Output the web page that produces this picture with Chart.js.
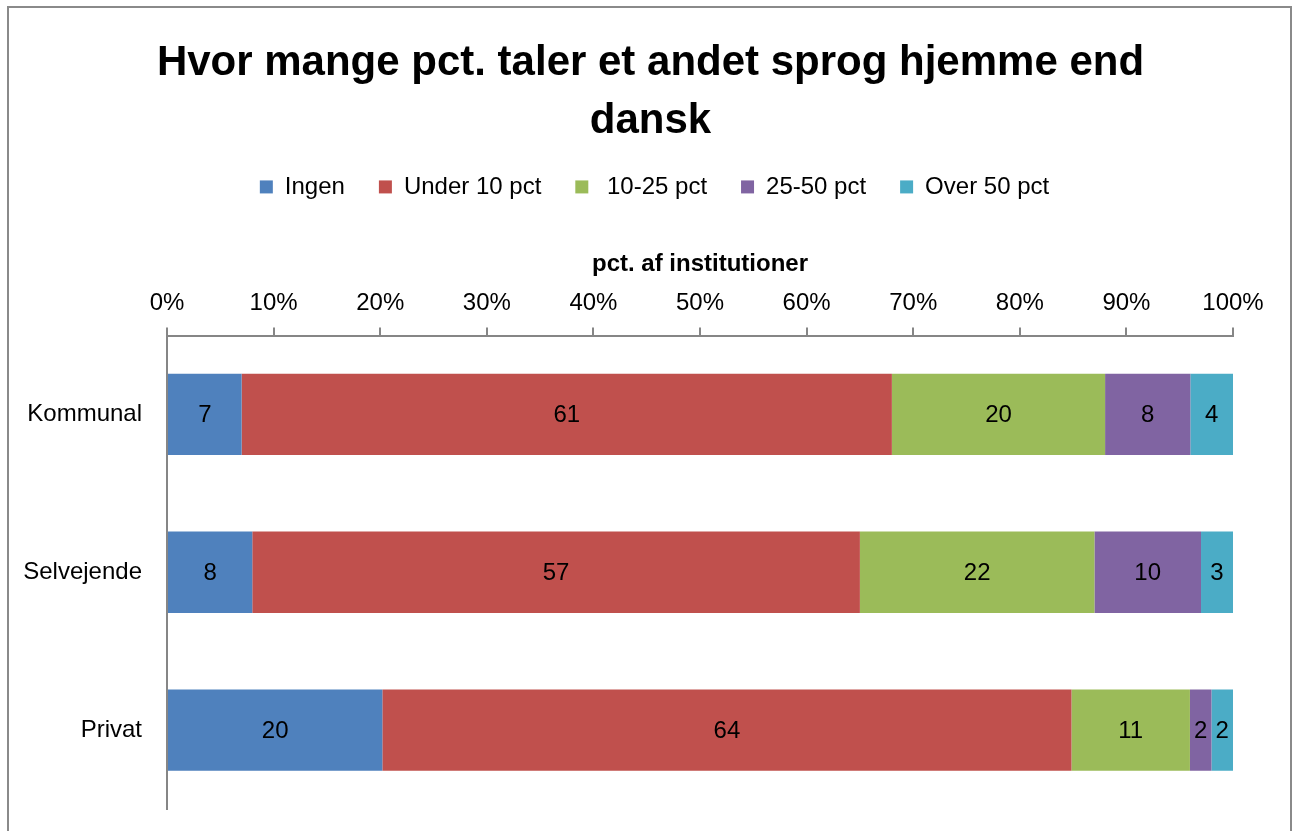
<!DOCTYPE html>
<html>
<head>
<meta charset="utf-8">
<script src="https://cdn.jsdelivr.net/npm/chart.js@4.4.1/dist/chart.umd.min.js"></script>
<style>
  html, body { margin: 0; padding: 0; background: #fff; }
  #wrap { position: relative; width: 1293px; height: 831px; }
</style>
</head>
<body>
<div id="wrap"><canvas id="c" width="1293" height="831"></canvas></div>
<script>
const titleLines = ['Hvor mange pct. taler et andet sprog hjemme end', 'dansk'];
const axisTitle = 'pct. af institutioner';
const categories = ['Kommunal', 'Selvejende', 'Privat'];
const seriesNames = ['Ingen', 'Under 10 pct', ' 10-25 pct', '25-50 pct', 'Over 50 pct'];
const ingen = [7, 8, 20];
const under10 = [61, 57, 64];
const p10to25 = [20, 22, 11];
const p25to50 = [8, 10, 2];
const over50 = [4, 3, 2];
const xTicks = [0, 10, 20, 30, 40, 50, 60, 70, 80, 90, 100];

const rawSeries = [ingen, under10, p10to25, p25to50, over50];
const colors = ['#4F81BD', '#C0504D', '#9BBB59', '#8064A2', '#4BACC6'];
const totals = categories.map((_, i) => rawSeries.reduce((s, arr) => s + arr[i], 0));

const FONT = "'Liberation Sans', Arial, sans-serif";

const frame = {
  id: 'frame',
  beforeDraw(chart) {
    const ctx = chart.ctx;
    ctx.save();
    ctx.fillStyle = '#fff';
    ctx.fillRect(0, 0, chart.width, chart.height);
    ctx.strokeStyle = '#8a8a8a';
    ctx.lineWidth = 2;
    ctx.strokeRect(8, 7, 1283, 900);
    ctx.restore();
  }
};

// Title and legend are centred on the whole frame, not on the plot area
const blockShift = {
  id: 'blockShift',
  afterLayout(chart) {
    if (chart.titleBlock) {
      chart.titleBlock.left += 29;
      chart.titleBlock.right += 29;
    }
    if (chart.legend) {
      chart.legend.left += 33;
      chart.legend.right += 33;
    }
  }
};

const dataLabels = {
  id: 'dataLabels',
  afterDatasetsDraw(chart) {
    const ctx = chart.ctx;
    ctx.save();
    ctx.fillStyle = '#000';
    ctx.font = '24px ' + FONT;
    ctx.textAlign = 'center';
    ctx.textBaseline = 'middle';
    chart.data.datasets.forEach((ds, di) => {
      const meta = chart.getDatasetMeta(di);
      meta.data.forEach((bar, i) => {
        const raw = ds.raw[i];
        const x = (bar.x + bar.base) / 2;
        ctx.fillText(String(raw), x, bar.y + 1);
      });
    });
    ctx.restore();
  }
};

new Chart(document.getElementById('c'), {
  type: 'bar',
  data: {
    labels: categories,
    datasets: rawSeries.map((arr, k) => ({
      label: seriesNames[k],
      raw: arr,
      data: arr.map((v, i) => v / totals[i] * 100),
      backgroundColor: colors[k],
      borderWidth: 0,
      categoryPercentage: 1,
      barPercentage: 0.515
    }))
  },
  options: {
    indexAxis: 'y',
    responsive: false,
    animation: false,
    layout: { padding: { top: 10, left: 10, right: 60, bottom: 22 } },
    plugins: {
      title: {
        display: true,
        text: titleLines,
        color: '#000',
        font: { family: FONT, size: 42, weight: 'bold', lineHeight: 1.38 },
        padding: { top: 24, bottom: -9 }
      },
      legend: {
        display: true,
        position: 'top',
        labels: {
          color: '#000',
          font: { family: FONT, size: 24 },
          boxWidth: 13,
          boxHeight: 13,
          padding: 34
        }
      },
      tooltip: { enabled: false }
    },
    scales: {
      x: {
        position: 'top',
        stacked: true,
        min: 0,
        max: 100,
        afterBuildTicks(scale) { scale.ticks = xTicks.map(v => ({ value: v })); },
        ticks: {
          color: '#000',
          font: { family: FONT, size: 24 },
          padding: 10,
          maxRotation: 0,
          callback: v => v + '%'
        },
        grid: {
          drawOnChartArea: false,
          drawTicks: true,
          tickLength: 8,
          color: '#868686',
          lineWidth: 2
        },
        border: { color: '#868686', width: 2 },
        title: {
          display: true,
          text: axisTitle,
          color: '#000',
          font: { family: FONT, size: 24, weight: 'bold' },
          padding: { top: 41, bottom: 0 }
        }
      },
      y: {
        stacked: true,
        afterFit(scale) {
          scale.width = 157;
          scale.paddingTop = 0;
          scale.paddingBottom = 0;
        },
        ticks: {
          color: '#000',
          font: { family: FONT, size: 24 },
          padding: 25
        },
        grid: { display: true, drawOnChartArea: false, drawTicks: false, color: '#868686' },
        border: { color: '#868686', width: 2 }
      }
    }
  },
  plugins: [frame, blockShift, dataLabels]
});
</script>
</body>
</html>
